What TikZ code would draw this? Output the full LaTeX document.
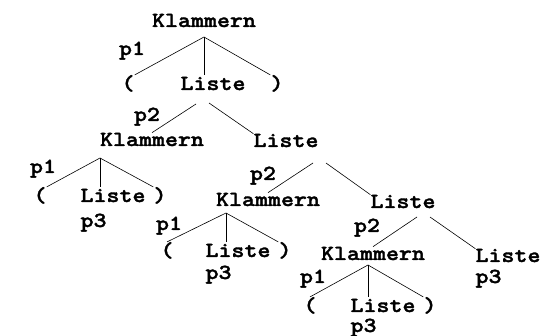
\documentclass[tikz,border=0pt]{standalone}
\usepackage{fontspec}
\newfontfamily\derivfont{lmmonolt10-bold.otf}[FakeBold=1.6,FakeStretch=1.15]
\usetikzlibrary{positioning}

\begin{document}
\begin{tikzpicture}[x=1pt,y=-1pt,
    sym/.style={font=\derivfont\fontsize{21.5}{24}\selectfont,inner sep=0pt,anchor=base},
    lab/.style={sym},
    edge/.style={line width=0.6pt}]
    \useasboundingbox (0,0) rectangle (551,336);
    % symbols of the derivation
    \node[sym] (k1) at (204,27) {Klammern};
    \node[sym] (o1) at (128,90) {(};
    \node[sym] (l1) at (213,90) {Liste};
    \node[sym] (c1) at (277,90) {)};
    \node[sym] (k2) at (152,146) {Klammern};
    \node[sym] (l2) at (286,147) {Liste};
    \node[sym] (o2) at (40,202) {(};
    \node[sym] (l3) at (113,202) {Liste};
    \node[sym] (c2) at (160,202) {)};
    \node[sym] (k3) at (268,206) {Klammern};
    \node[sym] (l4) at (403,208) {Liste};
    \node[sym] (o3) at (167,257) {(};
    \node[sym] (l5) at (238,257) {Liste};
    \node[sym] (c3) at (285,257) {)};
    \node[sym] (k4) at (373,260) {Klammern};
    \node[sym] (l6) at (508,262) {Liste};
    \node[sym] (o4) at (310,312) {(};
    \node[sym] (l7) at (383,312) {Liste};
    \node[sym] (c4) at (430,312) {)};
    % rule labels
    \node[lab] (r1) at (132,55) {p1};
    \node[lab] (r2) at (147,121) {p2};
    \node[lab] (r3) at (43,173) {p1};
    \node[lab] (r4) at (263,180) {p2};
    \node[lab] (r5) at (169,230) {p1};
    \node[lab] (r6) at (367,232) {p2};
    \node[lab] (r7) at (313,283) {p1};
    \node[lab, anchor=base west] (r8) at (l3.base west |- 0,227) {p3};
    \node[lab, anchor=base west] (r9) at (l5.base west |- 0,279) {p3};
    \node[lab, anchor=base west] (r10) at (l6.base west |- 0,283) {p3};
    \node[lab, anchor=base west] (r11) at (l7.base west |- 0,332) {p3};
    % branch points
    \coordinate (j1) at (204,37);
    \coordinate (j2a) at (196,104);
    \coordinate (j2b) at (209,103);
    \coordinate (j3) at (100,158);
    \coordinate (j4a) at (313,163);
    \coordinate (j4b) at (326,163);
    \coordinate (j5) at (226,213);
    \coordinate (j6a) at (417,217);
    \coordinate (j6b) at (430,217);
    \coordinate (j7) at (368,265);
    % tree edges
    \draw[edge] (j1) -- (o1.north east);
    \draw[edge] (j1) -- (j1 |- o1.north);
    \draw[edge] (j1) -- (c1.north west);
    \draw[edge] (j2a) -- (k2.north);
    \draw[edge] (j2b) -- (l2.north west);
    \draw[edge] (j3) -- (o2.north east);
    \draw[edge] (j3) -- (j3 |- o2.north);
    \draw[edge] (j3) -- (c2.north west);
    \draw[edge] (j4a) -- (k3.north);
    \draw[edge] (j4b) -- (l4.north west);
    \draw[edge] (j5) -- (o3.north);
    \draw[edge] (j5) -- (j5 |- o3.north);
    \draw[edge] (j5) -- (c3.north west);
    \draw[edge] (j6a) -- (k4.north);
    \draw[edge] (j6b) -- (l6.north west);
    \draw[edge] (j7) -- (o4.north);
    \draw[edge] (j7) -- (j7 |- o4.north);
    \draw[edge] (j7) -- (c4.north west);
\end{tikzpicture}
\end{document}
